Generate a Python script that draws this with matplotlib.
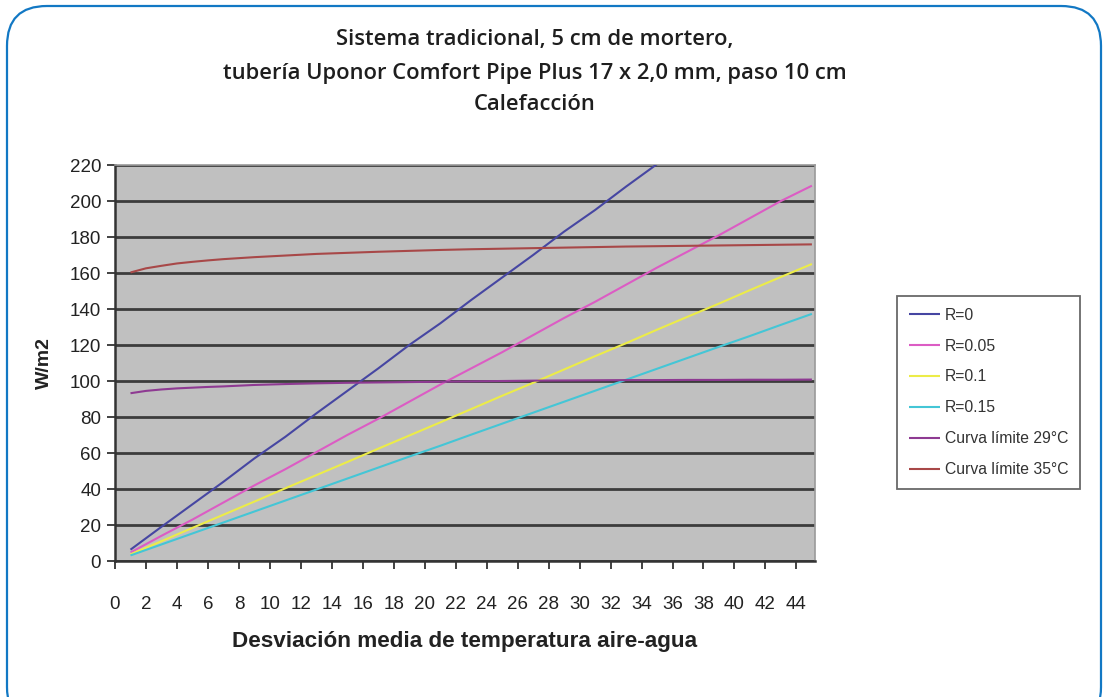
import matplotlib
matplotlib.use("Agg")
import matplotlib.pyplot as plt
from matplotlib.patches import FancyBboxPatch

title_lines = ["Sistema tradicional, 5 cm de mortero,",
               "tubería Uponor Comfort Pipe Plus 17 x 2,0 mm, paso 10 cm",
               "Calefacción"]
x_label = "Desviación media de temperatura aire-agua"
y_label = "W/m2"

x_vals = [1, 3, 5, 7, 9, 11, 13, 15, 17, 19, 21, 23, 25, 27, 29, 31, 33, 35,
          37, 39, 41, 43, 45]
r0 = [6.3, 19, 31.5, 44, 57, 69, 82, 94.5, 107, 120, 132, 145, 157.5, 170,
      183, 195, 208, 220.5]
r005 = [4.7, 14, 23, 32.5, 42, 51, 60.5, 70, 79, 88.5, 98, 107, 116, 125.5,
        135, 144, 153.5, 163, 172, 181, 190.5, 200, 208.5]
r01 = [3.7, 11, 18.4, 25.7, 33, 40.4, 47.7, 55, 62.4, 69.7, 77, 84.4, 91.8,
       99, 106.4, 113.8, 121, 128.5, 135.8, 143, 150.5, 157.8, 165]
r015 = [3.1, 9.2, 15.3, 21.4, 27.5, 33.6, 39.7, 45.8, 51.9, 58, 64, 70.2,
        76.3, 82.4, 88.5, 94.6, 100.7, 106.8, 112.9, 119, 125, 131.2, 137.3]

x_lim = [1, 2, 3, 4, 5, 6, 7, 9, 11, 13, 15, 17, 19, 21, 23, 25, 27, 29, 31,
         33, 35, 37, 39, 41, 43, 45]
lim29 = [93.2, 94.5, 95.3, 95.9, 96.3, 96.7, 97, 97.8, 98.3, 98.7, 99, 99.2,
         99.4, 99.6, 99.8, 100, 100.2, 100.3, 100.4, 100.5, 100.5, 100.6,
         100.6, 100.7, 100.7, 100.8]
lim35 = [160.3, 162.6, 164.0, 165.3, 166.2, 167.0, 167.7, 168.8, 169.7, 170.6,
         171.2, 171.8, 172.3, 172.8, 173.2, 173.5, 173.8, 174.1, 174.4, 174.7,
         174.9, 175.1, 175.3, 175.5, 175.7, 175.9]

series_labels = ["R=0", "R=0.05", "R=0.1", "R=0.15",
                 "Curva límite 29°C", "Curva límite 35°C"]
series_x = [x_vals, x_vals, x_vals, x_vals, x_lim, x_lim]
series_data = [r0, r005, r01, r015, lim29, lim35]
series_colors = ["#4646a2", "#dc5cc4", "#ecec48", "#44c6d6", "#8e3a92", "#a84848"]

x_ticks = list(range(0, 46, 2))
y_ticks = list(range(0, 221, 20))

fig = plt.figure(figsize=(11.08, 6.97), dpi=100)

# rounded frame
frame = FancyBboxPatch((7 / 1108, -30 / 697), 1094 / 1108, 721 / 697,
                       boxstyle="round,pad=0,rounding_size=0.036",
                       transform=fig.transFigure, facecolor="none",
                       edgecolor="#1278c4", linewidth=1.6,
                       mutation_aspect=1108 / 697, clip_on=False)
fig.patches.append(frame)

ax = fig.add_axes([115 / 1108, 1 - 561 / 697, 700 / 1108, 396 / 697])
ax.set_facecolor("#c0c0c0")

for lab, xs, data, col in zip(series_labels, series_x, series_data, series_colors):
    ax.plot(xs[:len(data)], data, color=col, lw=1.5, label=lab,
            solid_capstyle="butt", zorder=3)

ax.set_xlim(0, 45.2)
ax.set_ylim(0, 220)
ax.set_xticks(x_ticks)
ax.set_yticks(y_ticks)
ax.set_xticklabels([str(v) for v in x_ticks], fontfamily="Liberation Sans",
                   fontsize=13.5, color="#222222")
ax.set_yticklabels([str(v) for v in y_ticks], fontfamily="Liberation Sans",
                   fontsize=13.5, color="#222222")
ax.tick_params(axis="both", direction="out", length=6, width=1.3,
               color="#333333")
ax.tick_params(axis="x", pad=19)
ax.tick_params(axis="y", pad=4)
ax.yaxis.grid(True, color="#3c3c3c", lw=2.0, zorder=1)
ax.set_axisbelow(True)
for s in ["left", "bottom"]:
    ax.spines[s].set_color("#333333")
    ax.spines[s].set_linewidth(1.8)
for s in ["top", "right"]:
    ax.spines[s].set_color("#9a9a9a")
    ax.spines[s].set_linewidth(1.2)

ax.set_xlabel(x_label, fontfamily="Liberation Sans", fontweight="bold",
              fontsize=16.2, color="#222222", labelpad=13)
ax.set_ylabel(y_label, fontfamily="Liberation Sans", fontweight="bold",
              fontsize=14, color="#222222", labelpad=12)

leg = ax.legend(loc="upper left", bbox_to_anchor=(897 / 1108, 1 - 296 / 697),
                bbox_transform=fig.transFigure, frameon=True, fancybox=False,
                edgecolor="#444444", facecolor="white",
                prop={"family": "Liberation Sans", "size": 11.3},
                handlelength=2.0, handletextpad=0.3, labelspacing=1.01,
                borderpad=0.75, borderaxespad=0)
leg.get_frame().set_linewidth(1.3)
for t in leg.get_texts():
    t.set_color("#333333")

ty = [40, 73, 104]
for line, y in zip(title_lines, ty):
    fig.text(535 / 1108, 1 - y / 697, line, ha="center", va="center",
             fontfamily="Open Sans", fontweight="semibold", fontsize=15.8,
             color="#1e1e1e")

fig.savefig("out.png", dpi=100)
